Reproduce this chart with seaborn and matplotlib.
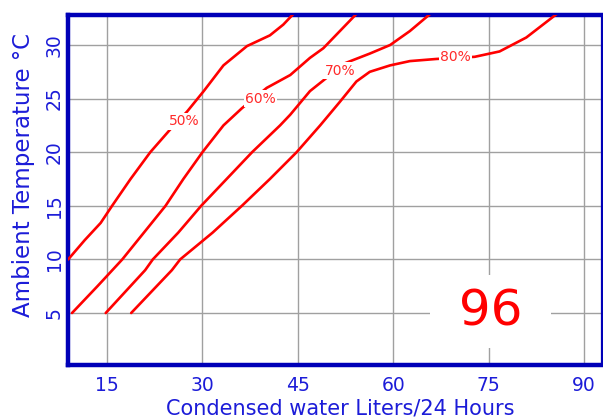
import matplotlib
matplotlib.use("Agg")
import matplotlib.pyplot as plt
import numpy as np
import pandas as pd
import seaborn as sns

# curves (x = liters/24h, y = ambient temp)
rh_50_x = [8.9, 11.5, 14.0, 15.8, 18.7, 21.8, 24.9, 27.6, 30.2, 33.3, 37.0, 40.6, 42.7, 44.3]
rh_50_y = [10.0, 11.8, 13.4, 15.0, 17.5, 20.0, 22.1, 23.8, 25.7, 28.1, 29.9, 30.9, 31.9, 32.9]

rh_60_x = [9.5, 13.5, 17.4, 20.8, 24.2, 27.0, 30.0, 33.3, 36.2, 40.1, 43.8, 46.9, 49.0, 54.2]
rh_60_y = [5.0, 7.5, 10.0, 12.5, 15.0, 17.5, 20.0, 22.5, 24.1, 26.0, 27.2, 28.8, 29.7, 32.9]

rh_70_x = [14.8, 21.0, 22.2, 26.2, 29.8, 33.8, 37.8, 42.2, 43.8, 46.9, 48.8, 52.4, 56.3, 59.5, 62.6, 65.8]
rh_70_y = [5.0, 9.0, 10.0, 12.5, 15.0, 17.5, 20.0, 22.5, 23.5, 25.7, 26.6, 28.3, 29.2, 30.0, 31.3, 32.9]

rh_80_x = [18.8, 25.2, 26.5, 31.6, 36.2, 40.6, 44.8, 48.5, 51.6, 54.2, 56.3, 59.5, 62.6, 66.8,
           72.8, 76.7, 80.9, 83.3, 85.7]
rh_80_y = [5.0, 9.0, 10.0, 12.5, 15.0, 17.5, 20.0, 22.5, 24.7, 26.6, 27.5, 28.1, 28.5, 28.7,
           28.9, 29.4, 30.7, 31.8, 32.9]

curve_labels = ["50%", "60%", "70%", "80%"]
label_x = [27.1, 39.1, 51.6, 69.8]
label_y = [22.9, 25.0, 27.6, 28.9]

x_ticks = [15, 30, 45, 60, 75, 90]
y_ticks = [5, 10, 15, 20, 25, 30]
model_number = "96"

frames = []
for name, xs, ys in zip(curve_labels,
                        [rh_50_x, rh_60_x, rh_70_x, rh_80_x],
                        [rh_50_y, rh_60_y, rh_70_y, rh_80_y]):
    frames.append(pd.DataFrame({"liters": xs, "temp": ys, "rh": name}))
df = pd.concat(frames, ignore_index=True)

sns.set_style("white")
plt.rcParams["font.family"] = ["DejaVu Sans"]

blue = "#0000b8"
text_blue = "#1c1cd8"

fig = plt.figure(figsize=(6.03, 4.2), dpi=100)
ax = fig.add_axes([68 / 603, 1 - 365 / 420, 534 / 603, 350 / 420])

sns.lineplot(data=df, x="liters", y="temp", units="rh", estimator=None,
             sort=False, color="#ff0000", linewidth=1.9, ax=ax, zorder=3)
for line in ax.get_lines():
    line.set_solid_joinstyle("round")

for lab, lx, ly in zip(curve_labels, label_x, label_y):
    ax.text(lx, ly, lab, color="#ff2a2a", fontsize=10, ha="center", va="center",
            zorder=4, bbox=dict(facecolor="white", edgecolor="none", pad=1.0))

# white patch behind the model number, wider than tall like the original
ax.text(75.3, 5.1, " " + model_number + " ", color="#ff0000", fontsize=36,
        ha="center", va="center", zorder=4,
        bbox=dict(boxstyle="square,pad=0.25", facecolor="white", edgecolor="none"))

ax.set_xlim(8.87, 92.8)
ax.set_ylim(0.15, 32.8)
ax.set_xticks(x_ticks)
ax.set_yticks(y_ticks)
ax.grid(True, color="#a0a0a0", linewidth=1.0)
ax.set_axisbelow(True)

ax.tick_params(axis="both", length=0, labelsize=13.5, labelcolor=text_blue)
ax.tick_params(axis="x", pad=8)
ax.tick_params(axis="y", pad=3)
plt.setp(ax.get_yticklabels(), rotation=90, va="center")

ax.set_xlabel("Condensed water Liters/24 Hours", fontsize=15, color=text_blue)
ax.set_ylabel("Ambient Temperature \u00b0C", fontsize=16.5, color=text_blue)
ax.xaxis.set_label_coords(0.509, -0.096)
ax.yaxis.set_label_coords(-0.062, 0.544)

for side in ["left", "top", "bottom"]:
    ax.spines[side].set_color(blue)
    ax.spines[side].set_linewidth(3.2)
ax.spines["right"].set_color(blue)
ax.spines["right"].set_linewidth(1.6)

fig.savefig("out.png", dpi=100)
